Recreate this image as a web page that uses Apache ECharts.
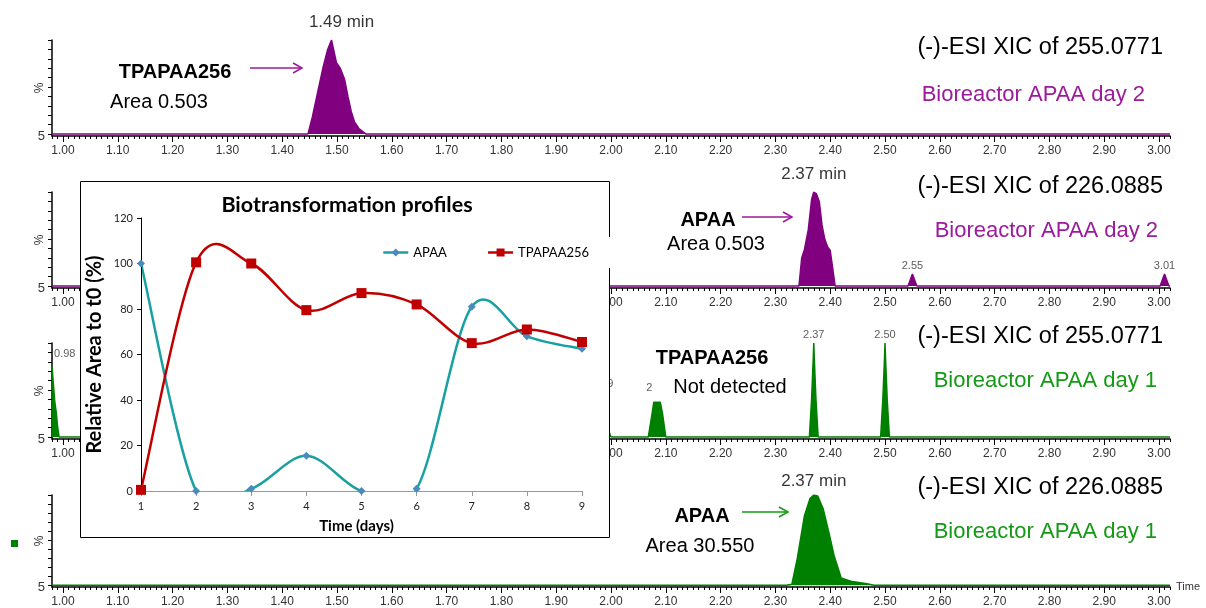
<!DOCTYPE html>
<html><head><meta charset="utf-8">
<script src="https://cdn.jsdelivr.net/npm/echarts@6/dist/echarts.min.js"></script>
<style>html,body{margin:0;padding:0;background:#fff}#c{width:1206px;height:608px}</style>
</head><body><div id="c"></div>
<script>
// ---------- data ----------
const xTickValues = [1.00,1.10,1.20,1.30,1.40,1.50,1.60,1.70,1.80,1.90,2.00,2.10,2.20,2.30,2.40,2.50,2.60,2.70,2.80,2.90,3.00];
const yBaseLabel = '5';
const yTickValues = [0,10,20,30,40,50,60,70,80,90,100];

// Panel 1: (-)-ESI XIC of 255.0771, Bioreactor APAA day 2
const p1Time = [0.98, 1.447, 1.455, 1.465, 1.475, 1.483, 1.49, 1.499, 1.506, 1.514, 1.52, 1.526, 1.532, 1.54, 1.553, 3.02];
const p1Int  = [0,    0,     18,    45,    72,    90,    100,  76,    70,    58,    40,   24,    13,    6,    0,     0];
const p1Labels = [[1.49, '1.49 min']];

// Panel 2: (-)-ESI XIC of 226.0885, Bioreactor APAA day 2
const p2Time = [0.98, 2.343, 2.348, 2.353, 2.36, 2.366, 2.37, 2.375, 2.38, 2.385, 2.39, 2.395, 2.40, 2.409, 2.542, 2.55, 2.558, 3.002, 3.01, 3.018, 3.02];
const p2Int  = [0,    0,     30,    39,    60,   92,    100,  98,    90,   65,    50,   42,    38,   0,     0,     13,   0,     0,     13,   0,     0];
const p2Labels = [[2.37, '2.37 min'], [2.55, '2.55'], [3.01, '3.01']];

// Panel 3: (-)-ESI XIC of 255.0771, Bioreactor APAA day 1
const p3Time = [0.98, 0.982, 0.985, 0.988, 0.99, 0.993, 1.975, 1.98, 1.985, 1.99, 1.995, 2.0, 2.068, 2.075, 2.078, 2.084, 2.09, 2.094, 2.10, 2.362, 2.366, 2.369, 2.37, 2.371, 2.374, 2.378, 2.492, 2.496, 2.499, 2.50, 2.501, 2.504, 2.508, 3.02];
const p3Int  = [76,   60,    38,    25,    12,   0,     0,     30,   48,    30,   8,     0,   0,     25,    37,    37,    37,   25,    0,    0,     40,    83,    100,  83,    40,    0,     0,     40,    83,    100,  83,    40,    0,     0];
const p3Labels = [[0.98, '0.98'], [1.985, '1.99'], [2.084, '2.09'], [2.37, '2.37'], [2.50, '2.50']];

// Panel 4: (-)-ESI XIC of 226.0885, Bioreactor APAA day 1
const p4Time = [0.98, 2.32, 2.33, 2.34, 2.353, 2.363, 2.37, 2.377, 2.387, 2.397, 2.407, 2.42, 2.44, 2.467, 2.48, 3.02];
const p4Int  = [0,    0,    1,    30,   77,    96,    100,  99,    85,    60,    33,    8,    4,    1.5,   0,    0];
const p4Labels = [[2.37, '2.37 min']];

// Inset: Biotransformation profiles
const days = [1, 2, 3, 4, 5, 6, 7, 8, 9];
const apaa = [100, 0, 1, 15.5, 0, 1, 81, 68, 62.5];
const tpapaa256 = [0.5, 100.5, 100, 79.5, 87, 82, 65, 71, 65.5];
const insetYTicks = [0, 20, 40, 60, 80, 100, 120];

// ---------- layout / styles ----------
const PURPLE = '#800080', GREEN = '#008000';
const PURPLE_TXT = '#9c1a9c', GREEN_TXT = '#159a15';
const TEAL = '#1aa0a0', RED = '#c00000', DIAMOND = '#4a8bbd';
const AF = 'Liberation Sans, Arial, sans-serif';
const CF = 'Lato, Open Sans, sans-serif';
const tops = [40, 192, 343, 495];
const GH = 96;

const minorTicks = [];
for (let k = 98; k <= 302; k++) minorTicks.push(k / 100);

const panels = [
  {t: p1Time, v: p1Int, lab: p1Labels, color: PURPLE},
  {t: p2Time, v: p2Int, lab: p2Labels, color: PURPLE},
  {t: p3Time, v: p3Int, lab: p3Labels, color: GREEN},
  {t: p4Time, v: p4Int, lab: p4Labels, color: GREEN}
];

const grid = [], xAxis = [], yAxis = [], series = [];
panels.forEach((p, i) => {
  grid.push({left: 52, width: 1118, top: tops[i], height: GH});
  xAxis.push({
    type: 'value', gridIndex: i, min: 0.98, max: 3.02, z: 1, position: 'bottom',
    axisLine: {show: true, onZero: false, lineStyle: {color: '#000', width: 1.5}},
    axisTick: {show: true, customValues: xTickValues, length: 6, lineStyle: {color: '#000'}},
    axisLabel: {customValues: xTickValues, formatter: v => v.toFixed(2), fontSize: 12, color: '#333', margin: 9, fontFamily: AF},
    splitLine: {show: false},
    name: i === 3 ? 'Time' : '', nameLocation: 'end', nameGap: 6,
    nameTextStyle: {fontSize: 11, color: '#333', fontFamily: AF}
  });
  xAxis.push({
    type: 'value', gridIndex: i, min: 0.98, max: 3.02, z: 1, position: 'bottom',
    axisLine: {show: false, onZero: false},
    axisTick: {show: true, customValues: minorTicks, length: 3, lineStyle: {color: '#000'}},
    axisLabel: {show: false}, splitLine: {show: false}
  });
  yAxis.push({
    type: 'value', gridIndex: i, min: -2, max: 100, z: 1,
    axisLine: {show: true, lineStyle: {color: '#000', width: 1.5}},
    axisTick: {show: true, customValues: yTickValues, length: 4, lineStyle: {color: '#000'}},
    axisLabel: {customValues: [-2], formatter: () => yBaseLabel, fontSize: 13, color: '#333', margin: 7, fontFamily: AF},
    splitLine: {show: false},
    name: '%', nameLocation: 'middle', nameGap: 6, nameRotate: 90, nameMoveOverlap: false,
    nameTextStyle: {fontSize: 12, color: '#333', fontFamily: AF}
  });
  series.push({
    type: 'line', xAxisIndex: 2 * i, yAxisIndex: i, z: 2,
    data: p.t.map((t, k) => [t, p.v[k]]),
    symbol: 'none', lineStyle: {color: p.color, width: 1.5},
    areaStyle: {color: p.color, opacity: 1}, silent: true
  });
  series.push({
    type: 'scatter', xAxisIndex: 2 * i, yAxisIndex: i, z: 3,
    symbolSize: 0.1, itemStyle: {color: 'rgba(0,0,0,0)'}, silent: true,
    data: p.lab.map(([t, txt]) => {
      const big = txt.indexOf('min') >= 0;
      let lab = {show: true, formatter: txt, position: 'top', color: big ? '#000' : '#333',
                 fontSize: big ? 17 : 11, fontFamily: AF, distance: big ? 9 : 2};
      if (txt === '0.98') lab = Object.assign(lab, {position: 'right', offset: [0, -12]});
      if (txt === '2.09') lab.distance = 9;
      if (txt === '1.49 min') lab.offset = [10, 0];
      if (i === 3) lab.distance = 5;
      return {value: [t, p.v[p.t.indexOf(t)]], label: lab};
    })
  });
});

// inset grid
grid.push({left: 141, top: 218, width: 441, height: 273});
xAxis.push({
  type: 'value', gridIndex: 4, min: 1, max: 9, interval: 1, z: 12,
  axisLine: {show: true, lineStyle: {color: '#999', width: 1}},
  axisTick: {show: true, length: 5, lineStyle: {color: '#999'}},
  axisLabel: {fontSize: 11, color: '#222', margin: 10, fontFamily: CF},
  splitLine: {show: false},
  name: 'Time (days)', nameLocation: 'middle', nameGap: 28, nameMoveOverlap: false,
  nameTextStyle: {fontWeight: 'bold', fontSize: 15, color: '#000', fontFamily: CF, padding: [0, 10, 0, 0]}
});
yAxis.push({
  type: 'value', gridIndex: 4, min: 0, max: 120, interval: 20, z: 12,
  axisLine: {show: true, lineStyle: {color: '#000', width: 1}},
  axisTick: {show: true, length: 4, lineStyle: {color: '#000'}},
  axisLabel: {customValues: insetYTicks, fontSize: 11, color: '#222', margin: 8, fontFamily: CF},
  splitLine: {show: false},
  name: 'Relative Area to t0 (%)', nameLocation: 'middle', nameGap: 36, nameRotate: 90, nameMoveOverlap: false,
  nameTextStyle: {fontWeight: 'bold', fontSize: 20, color: '#000', fontFamily: CF}
});

// Excel-like smoothed curve: Catmull-Rom through the points, positioned by the axes (api.coord)
function curveSeries(name, ys, color) {
  return {
    type: 'custom', name: name, xAxisIndex: 8, yAxisIndex: 4, z: 12, clip: true, silent: true,
    data: days.map((d, k) => [d, ys[k]]),
    renderItem: (params, api) => {
      if (params.dataIndex !== 0) return null;
      const pts = days.map((d, k) => api.coord([d, ys[k]]));
      const children = [];
      for (let k = 0; k < pts.length - 1; k++) {
        const p0 = pts[Math.max(k - 1, 0)], p1 = pts[k], p2 = pts[k + 1], p3 = pts[Math.min(k + 2, pts.length - 1)];
        children.push({
          type: 'bezierCurve',
          shape: {
            x1: p1[0], y1: p1[1], x2: p2[0], y2: p2[1],
            cpx1: p1[0] + (p2[0] - p0[0]) / 6, cpy1: p1[1] + (p2[1] - p0[1]) / 6,
            cpx2: p2[0] - (p3[0] - p1[0]) / 6, cpy2: p2[1] - (p3[1] - p1[1]) / 6
          },
          style: {stroke: color, lineWidth: 2.5, fill: null}
        });
      }
      return {type: 'group', children: children};
    }
  };
}
series.push(curveSeries('APAA curve', apaa, TEAL));
series.push(curveSeries('TPAPAA256 curve', tpapaa256, RED));
series.push({
  name: 'APAA', type: 'line', xAxisIndex: 8, yAxisIndex: 4, z: 13,
  data: days.map((d, k) => [d, apaa[k]]),
  symbol: 'diamond', symbolSize: 8, itemStyle: {color: DIAMOND},
  lineStyle: {color: 'rgba(0,0,0,0)', width: 2.5}
});
series.push({
  name: 'TPAPAA256', type: 'line', xAxisIndex: 8, yAxisIndex: 4, z: 13,
  data: days.map((d, k) => [d, tpapaa256[k]]),
  symbol: 'rect', symbolSize: 10, itemStyle: {color: RED},
  lineStyle: {color: 'rgba(0,0,0,0)', width: 2.5}
});

function txt(x, y, s, o) {
  return Object.assign({type: 'text', x: x, y: y, z: 6,
    style: Object.assign({text: s, font: '20px ' + AF, fill: '#000', textAlign: 'center', textVerticalAlign: 'middle'}, o || {})});
}
function arrow(x1, x2, y, c) {
  return [
    {type: 'polyline', z: 6, shape: {points: [[x1, y], [x2, y]]}, style: {stroke: c, lineWidth: 1.5, fill: null}},
    {type: 'polyline', z: 6, shape: {points: [[x2 - 9, y - 5], [x2, y], [x2 - 9, y + 5]]}, style: {stroke: c, lineWidth: 1.5, fill: null}}
  ];
}
const R1 = {textAlign: 'right', font: '23.5px ' + AF};
const R2 = {textAlign: 'right', font: '22px ' + AF};
const graphic = [].concat(
  // panel 1
  [txt(175, 72, 'TPAPAA256', {font: 'bold 20px ' + AF}), txt(159, 102, 'Area 0.503')],
  arrow(250, 302, 68, PURPLE_TXT),
  [txt(1163, 48, '(-)-ESI XIC of 255.0771', R1), txt(1145, 95, 'Bioreactor APAA day 2', Object.assign({}, R2, {fill: PURPLE_TXT}))],
  // panel 2
  [txt(708, 220, 'APAA', {font: 'bold 20px ' + AF}), txt(716, 244, 'Area 0.503')],
  arrow(742, 792, 217, PURPLE_TXT),
  [txt(1163, 187, '(-)-ESI XIC of 226.0885', R1), txt(1158, 231, 'Bioreactor APAA day 2', Object.assign({}, R2, {fill: PURPLE_TXT}))],
  // panel 3
  [{type: 'rect', z: 5, shape: {x: 652, y: 344, width: 140, height: 56}, style: {fill: '#fff'}},
   txt(712, 358, 'TPAPAA256', {font: 'bold 20px ' + AF}), txt(730, 387, 'Not detected'),
   txt(1163, 337, '(-)-ESI XIC of 255.0771', R1), txt(1157, 381, 'Bioreactor APAA day 1', Object.assign({}, R2, {fill: GREEN_TXT}))],
  // panel 4
  [txt(702, 516, 'APAA', {font: 'bold 20px ' + AF}), txt(700, 546, 'Area 30.550')],
  arrow(742, 788, 512, GREEN_TXT),
  [txt(1163, 488, '(-)-ESI XIC of 226.0885', R1), txt(1157, 532, 'Bioreactor APAA day 1', Object.assign({}, R2, {fill: GREEN_TXT})),
   {type: 'rect', z: 6, shape: {x: 11, y: 540, width: 7, height: 7}, style: {fill: GREEN}}],
  // inset box
  [{type: 'rect', z: 10, shape: {x: 80.5, y: 181.5, width: 529, height: 356}, style: {fill: '#fff', stroke: '#000', lineWidth: 1}},
   {type: 'rect', z: 11, shape: {x: 600, y: 237, width: 25, height: 31}, style: {fill: '#fff'}},
   Object.assign(txt(347, 205, 'Biotransformation profiles', {font: 'bold 21.5px ' + CF, fill: '#000'}), {z: 14})]
);

const chart = echarts.init(document.getElementById('c'), null, {renderer: 'canvas'});
chart.setOption({
  backgroundColor: '#fff',
  animation: false,
  grid, xAxis, yAxis, series,
  legend: {
    data: [
      {name: 'APAA', lineStyle: {color: TEAL, width: 2.5, opacity: 1}, itemStyle: {color: DIAMOND}},
      {name: 'TPAPAA256', lineStyle: {color: RED, width: 2.5, opacity: 1}, itemStyle: {color: RED}}
    ],
    left: 377, top: 241, z: 14,
    itemWidth: 25, itemHeight: 10, itemGap: 40,
    textStyle: {fontSize: 13, color: '#000', fontFamily: CF}
  },
  graphic: {elements: graphic}
});
</script>
</body></html>
